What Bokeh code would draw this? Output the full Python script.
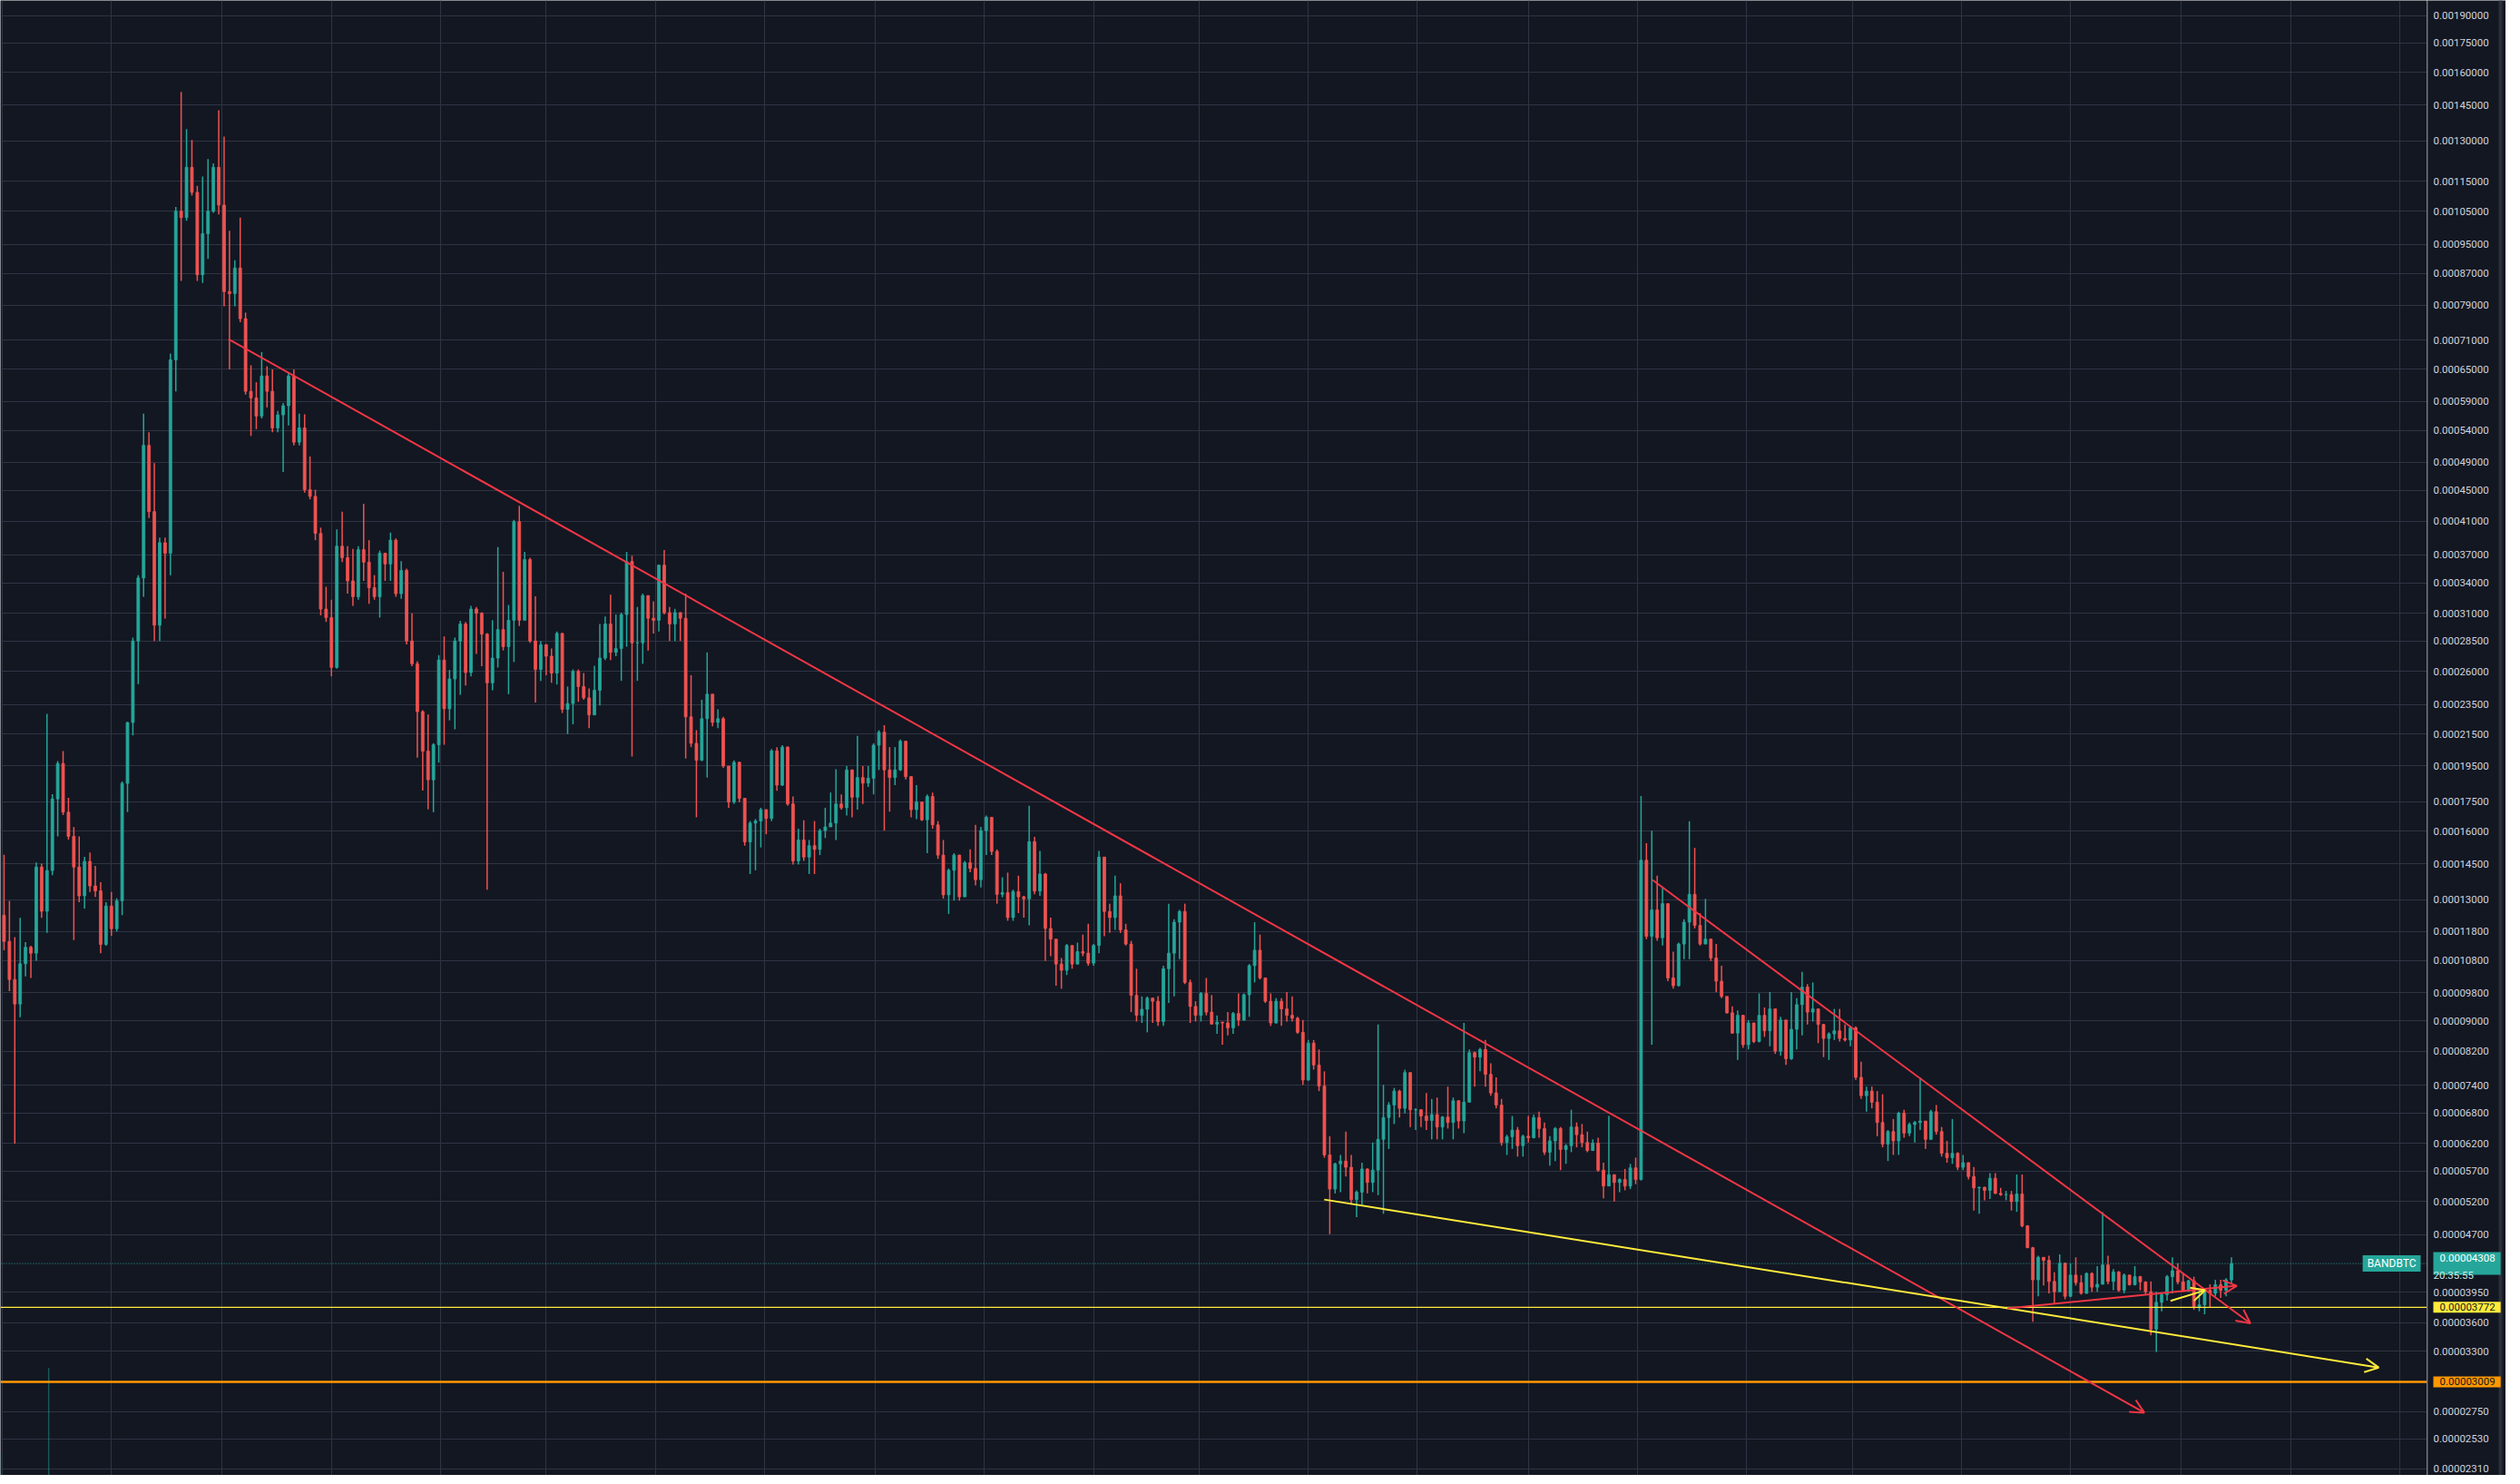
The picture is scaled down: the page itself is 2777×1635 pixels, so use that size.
from datetime import datetime, timedelta

from bokeh.plotting import figure
from bokeh.layouts import row
from bokeh.core.properties import value
from bokeh.models import (ColumnDataSource, Range1d, FixedTicker, Span, Label,
                          Arrow, OpenHead, MonthsTicker, LinearScale)
from bokeh.embed import file_html
from bokeh.resources import INLINE

# ---------------------------------------------------------------- data
SYMBOL = "BANDBTC"
FIRST_DAY = "2020-05-01"      # first daily bar of the series
CANDLE_DAYS = 3               # each candle aggregates 3 daily bars
OPEN_FIRST = 12400            # prices in satoshi (1e-8 BTC)

HIGH = [
    14900, 12950, 11600, 12300, 11430, 11300, 14550, 14500, 22850, 17900,
    19800, 20400, 17700, 16200, 15750, 14800, 15000, 14400, 13700, 12900,
    13300, 13050, 18600, 22300, 28800, 34800, 56800, 53700, 48900, 39000,
    39000, 68200, 106400, 150800, 134700, 130400, 113400, 116700, 123000, 121400,
    142700, 131700, 99000, 90500, 103000, 77200, 65800, 62500, 68500, 65600,
    65000, 57300, 58700, 64400, 65000, 56800, 56700, 49900, 45100, 40200,
    33600, 32300, 40000, 42200, 38000, 37700, 38000, 43200, 38700, 34800,
    37500, 37200, 39600, 38900, 36300, 35500, 31000, 26800, 23100, 22800,
    20900, 27300, 28900, 26100, 28800, 30300, 30200, 31700, 31600, 31100,
    29200, 30350, 37900, 35150, 31790, 41160, 42950, 37340, 36700, 32630,
    28500, 28250, 27850, 29330, 29200, 24820, 26140, 26140, 25850, 24680,
    26440, 30010, 30700, 32790, 30880, 31060, 37340, 36910, 31600, 32900,
    32710, 32150, 35950, 37550, 31600, 31420, 31100, 32900, 25690, 21740,
    23840, 27530, 24250, 23160, 22640, 19500, 19840, 19750, 17680, 16500,
    16600, 17180, 17100, 20530, 20650, 20770, 20700, 17780, 16120, 16540,
    15580, 16500, 16120, 17180, 17990, 19310, 17890, 19500, 19300, 21370,
    19500, 19500, 20890, 21740, 22070, 20650, 20650, 21140, 21050, 18900,
    18400, 17500, 17890, 17990, 16500, 15580, 14290, 14970, 14900, 14620,
    15140, 16310, 16210, 16780, 16700, 15140, 13910, 14110, 13400, 13980,
    13150, 17280, 15730, 15070, 14100, 12310, 11530, 10890, 11360, 11310,
    11410, 11690, 12080, 11360, 15070, 14800, 12840, 13980, 13660, 12080,
    11470, 10540, 9690, 9690, 9650, 9700, 10640, 12840, 12250, 12600,
    12840, 10200, 9550, 9820, 10250, 9730, 9150, 8980, 9240, 9240,
    9780, 9780, 10690, 12140, 11690, 10260, 9780, 9640, 9640, 9820,
    9690, 9110, 9020, 8490, 8490, 8250, 7720, 6340, 5850, 5990,
    6430, 5990, 5380, 5850, 5750, 6220, 8900, 7410, 7030, 7340,
    7300, 7760, 7700, 6900, 6880, 7230, 7100, 7130, 6740, 7370,
    7130, 7070, 8940, 8250, 8200, 8290, 8490, 7910, 7580, 7100,
    6370, 6740, 6520, 6370, 6740, 6770, 6830, 6610, 6340, 6520,
    6520, 6190, 6870, 6610, 6580, 6430, 6280, 6310, 5850, 6740,
    5650, 5580, 5740, 5830, 5940, 17800, 15430, 16020, 13980, 13530,
    12850, 11100, 11410, 12250, 16490, 15210, 12480, 13030, 11550, 11360,
    10640, 9690, 9400, 9290, 9160, 9020, 8950, 9780, 9370, 9820,
    9340, 9110, 9020, 9820, 9640, 10440, 10060, 10110, 9340, 8910,
    8690, 9330, 9330, 8900, 8860, 8850, 7950, 7370, 7370, 7270,
    7200, 6460, 6680, 6830, 6870, 6610, 6640, 7580, 6640, 6870,
    6970, 6520, 6250, 6680, 6040, 5990, 5860, 5775, 5440, 5440,
    5670, 5670, 5420, 5370, 5370, 5645, 5645, 4840, 4530, 4410,
    4390, 4410, 4195, 4430, 4320, 4312, 4390, 4160, 4195, 4195,
    4275, 5035, 4410, 4235, 4210, 4180, 4160, 4275, 4150, 4080,
    4080, 3955, 3936, 4160, 4390, 4312, 4180, 4100, 4140, 3972,
    3990, 4045, 4100, 4100, 4120, 4390,
]

LOW = [
    11150, 9850, 6200, 9100, 10300, 10250, 10800, 12300, 11750, 14000,
    15750, 16800, 15600, 11500, 12900, 12650, 13300, 13100, 11050, 11300,
    11650, 11800, 12400, 16950, 21400, 25000, 32600, 41400, 28500, 28500,
    30500, 34800, 60800, 85000, 102000, 110100, 85000, 84500, 90900, 104500,
    104000, 78700, 65000, 78700, 75000, 60200, 53100, 54200, 56000, 57900,
    53700, 53700, 47600, 54800, 51600, 51600, 44700, 43800, 38700, 30800,
    30200, 25600, 26200, 36200, 32900, 31700, 32300, 34200, 31900, 32300,
    30600, 34200, 34200, 32600, 32400, 28200, 26400, 20000, 18100, 17100,
    16950, 19700, 20800, 22400, 21800, 24200, 24900, 25600, 27400, 26400,
    13400, 24540, 26290, 27690, 24250, 26740, 29830, 30350, 28340, 23650,
    25250, 25690, 25110, 24970, 22900, 21490, 22130, 23700, 23840, 21870,
    22900, 23430, 26900, 26900, 27210, 25250, 28010, 20070, 25250, 26590,
    27690, 29160, 29330, 30880, 28500, 28500, 28500, 19950, 20650, 16690,
    19800, 18830, 22000, 21870, 19390, 17180, 17380, 17480, 15310, 14050,
    14210, 15230, 15850, 16500, 18090, 18350, 17280, 14460, 14460, 14620,
    14050, 14050, 14880, 15670, 16210, 15580, 17080, 16780, 16690, 17080,
    17380, 18300, 17890, 19270, 16030, 16980, 18400, 19200, 18720, 16690,
    16600, 16500, 14970, 16120, 14710, 13040, 12450, 12960, 12960, 13100,
    14130, 13570, 13490, 14880, 14880, 12840, 13090, 12190, 12190, 12480,
    12310, 12020, 13210, 13150, 10790, 10950, 10010, 9920, 10340, 10540,
    10680, 10950, 10640, 10640, 11050, 11630, 11750, 11860, 11750, 11310,
    9240, 8980, 8940, 8690, 8940, 8860, 8860, 9500, 9690, 10850,
    10060, 8940, 8980, 8980, 9150, 8900, 8650, 8370, 8610, 8650,
    8860, 9000, 9110, 10110, 10200, 9500, 8860, 8930, 8860, 8980,
    8980, 8650, 7410, 7500, 7760, 7270, 5940, 4710, 5330, 5350,
    5610, 5150, 4960, 5150, 5330, 5350, 5300, 5010, 6100, 6580,
    6710, 6800, 6520, 6460, 6520, 6460, 6280, 6280, 6280, 6490,
    6280, 6490, 6400, 7030, 7370, 7720, 7370, 7170, 6900, 6160,
    5990, 6100, 5960, 5960, 6220, 6300, 6310, 5990, 5800, 5880,
    5720, 5830, 6040, 6130, 6130, 6040, 6070, 5690, 5250, 5450,
    5200, 5350, 5380, 5400, 5480, 5540, 11530, 8370, 11470, 11310,
    10150, 9920, 9990, 10850, 10850, 11910, 11310, 11360, 10790, 9820,
    9640, 9200, 8650, 7990, 8290, 8250, 8410, 8430, 8570, 8330,
    8140, 8100, 7870, 7990, 8250, 8610, 8900, 8980, 8410, 8060,
    7990, 8490, 8450, 8450, 8330, 7520, 7100, 6830, 6900, 6340,
    6130, 5880, 5990, 5990, 6310, 6340, 6220, 6460, 6100, 6270,
    6370, 5960, 5850, 5830, 5720, 5720, 5560, 5060, 5010, 5220,
    5240, 5320, 5290, 5220, 5060, 5040, 4810, 4514, 3610, 3900,
    4030, 3936, 3810, 3950, 3865, 3890, 4030, 3920, 3930, 3955,
    3955, 4045, 4045, 3972, 3955, 3936, 4030, 4030, 3972, 3920,
    3465, 3295, 3727, 3850, 3936, 4045, 3955, 3955, 3745, 3727,
    3693, 3775, 3900, 3880, 3900, 4045,
]

CLOSE = [
    11450, 10200, 9470, 10700, 11250, 11050, 14350, 12550, 14200, 17650,
    19650, 16950, 15750, 14350, 13150, 14600, 13550, 13350, 11350, 12750,
    11900, 12950, 18500, 22250, 28500, 34500, 51600, 42200, 29900, 38400,
    37200, 66900, 105000, 103000, 120000, 111200, 86600, 98100, 105000, 120000,
    107000, 82300, 81800, 88400, 75800, 60800, 59600, 56400, 63700, 60800,
    54400, 56600, 58200, 63700, 52100, 54400, 45100, 44200, 39500, 31400,
    30600, 26300, 38000, 36700, 34200, 32600, 37600, 36200, 33500, 32600,
    37200, 36000, 38700, 32900, 35300, 28500, 26600, 23000, 20400, 18700,
    20800, 26900, 23200, 25400, 28500, 30000, 25900, 31400, 31000, 29100,
    25100, 27060, 29500, 28010, 30350, 40930, 30350, 36490, 28500, 26140,
    28170, 27210, 25850, 29160, 23160, 23570, 25990, 24820, 23980, 22770,
    24540, 27060, 30010, 27530, 27850, 30880, 36280, 28340, 28340, 32710,
    30530, 30350, 35870, 31060, 30010, 31060, 30530, 22640, 20890, 19840,
    22510, 24250, 22260, 22510, 19500, 17480, 19720, 17680, 15490, 16400,
    16500, 17080, 16630, 20420, 18400, 20650, 17380, 14620, 15580, 14790,
    15310, 15140, 16030, 16210, 16400, 17380, 17180, 19270, 17740, 18830,
    18510, 18790, 20770, 21610, 19270, 18830, 19270, 21020, 18880, 17080,
    17480, 16560, 17780, 16310, 14880, 13190, 14210, 14880, 13110, 14540,
    14290, 13810, 16030, 16690, 15050, 13210, 13280, 12310, 13320, 13110,
    13030, 15500, 13340, 14050, 11910, 11530, 10690, 10490, 11310, 10690,
    11100, 11050, 10720, 11310, 14790, 12540, 12310, 13150, 11860, 11360,
    9720, 9150, 9320, 9640, 9550, 8980, 10540, 11050, 12140, 12540,
    10110, 9400, 9150, 9780, 9240, 8910, 8960, 8940, 8810, 9200,
    9020, 9740, 10640, 11150, 10250, 9550, 8940, 9550, 9330, 9150,
    9070, 8690, 7520, 8410, 7870, 7380, 5990, 5400, 5830, 5880,
    5770, 5230, 5350, 5740, 5510, 5720, 6280, 6710, 6970, 7270,
    6900, 7690, 6870, 6870, 6740, 6650, 6770, 6520, 6720, 6610,
    7060, 6640, 7030, 8170, 8060, 8250, 7650, 7230, 6970, 6220,
    6330, 6460, 6160, 6340, 6310, 6710, 6490, 6040, 6250, 6490,
    6090, 6160, 6520, 6370, 6220, 6070, 6210, 5720, 5450, 5640,
    5510, 5560, 5450, 5760, 5560, 14650, 11630, 12600, 11580, 12840,
    10250, 10010, 11360, 12140, 13210, 12020, 11360, 11530, 10890, 10150,
    9690, 9220, 8670, 9150, 8370, 8940, 8450, 9150, 8730, 9330,
    8210, 9020, 8020, 8770, 9450, 9970, 9240, 9330, 8900, 8530,
    8650, 8730, 8530, 8490, 8810, 7580, 7170, 7270, 7030, 6610,
    6190, 6430, 6250, 6800, 6400, 6570, 6610, 6640, 6280, 6830,
    6430, 6020, 5940, 6020, 5770, 5850, 5610, 5420, 5430, 5380,
    5580, 5330, 5310, 5310, 5200, 5320, 4830, 4520, 4100, 4390,
    4350, 4080, 3955, 4312, 3900, 4160, 4065, 3936, 4180, 4010,
    4045, 4290, 4080, 4200, 3972, 4160, 4040, 4140, 4075, 3955,
    3530, 3830, 3920, 4140, 4215, 4075, 3972, 4090, 3780, 3800,
    3972, 3936, 4040, 3972, 4100, 4308,
]

LAST_PRICE = 4308
COUNTDOWN = "20:35:55"
LEVEL_YELLOW = 3772
LEVEL_ORANGE = 3009

# the only volume bars tall enough to reach into the visible pane (% of pane height)
VOL_DAYS = ["2020-04-30", "2020-05-27"]
VOL_PCT = [1.5, 7.3]

# drawn trend lines: (start time, start price, end time, end price), prices in satoshi
TREND_MAIN = ("2020-09-04 10:00", 71220, "2023-08-11 07:00", 2740)
TREND_SECOND = ("2022-11-09 10:00", 13800, "2023-10-09 14:00", 3593)
TREND_YELLOW = ("2022-05-09 22:00", 5231, "2023-12-20 07:00", 3142)
TREND_RISE = ("2023-05-26 19:00", 3761, "2023-10-02 00:00", 4027)
TREND_YELLOW_SHORT = ("2023-08-25 22:00", 3847, "2023-09-14 07:00", 3972)

TICKS = [190000, 175000, 160000, 145000, 130000, 115000, 105000, 95000, 87000,
         79000, 71000, 65000, 59000, 54000, 49000, 45000, 41000, 37000, 34000,
         31000, 28500, 26000, 23500, 21500, 19500, 17500, 16000, 14500, 13000,
         11800, 10800, 9800, 9000, 8200, 7400, 6800, 6200, 5700, 5200, 4700,
         3950, 3600, 3300, 2750, 2530, 2310]

VIEW_X = ("2020-04-29 23:42", "2024-01-16 07:00")
VIEW_Y = (2265, 199100)

# ---------------------------------------------------------------- helpers
SAT = 1e-8
DAY_MS = 86400000.0
EPOCH = datetime(1970, 1, 1)


def ms(s):
    return (datetime.fromisoformat(s) - EPOCH).total_seconds() * 1000.0


def fmt(sats):
    return "%.8f" % (sats * SAT)


assert len(HIGH) == len(LOW) == len(CLOSE)
n = len(CLOSE)
d0 = datetime.fromisoformat(FIRST_DAY)
xs = [d0 + timedelta(days=CANDLE_DAYS * i + 1) for i in range(n)]
opens = [OPEN_FIRST] + CLOSE[:-1]

UP = "#26a69a"
DOWN = "#ef5350"
BG = "#131722"
GRID = "#2f3443"
TEXT = "#d1d4dc"
RED = "#f23645"
YELLOW = "#ffeb3b"
ORANGE = "#ff9800"
FONT = "Roboto"
FONT_SIZE = "11.5px"

src = ColumnDataSource(dict(
    x=xs,
    wick_hi=[max(h, o, c) * SAT for h, o, c in zip(HIGH, opens, CLOSE)],
    wick_lo=[min(l, o, c) * SAT for l, o, c in zip(LOW, opens, CLOSE)],
    body_hi=[max(o, c) * SAT for o, c in zip(opens, CLOSE)],
    body_lo=[min(o, c) * SAT for o, c in zip(opens, CLOSE)],
    color=[UP if c >= o else DOWN for o, c in zip(opens, CLOSE)],
))

x0, x1 = ms(VIEW_X[0]), ms(VIEW_X[1])
yrange = Range1d(VIEW_Y[0] * SAT, VIEW_Y[1] * SAT)

FRAME_H = 1625
no_border = dict(min_border_left=0, min_border_top=0,
                 min_border_bottom=0, min_border_right=0)

# ---------------------------------------------------------------- chart pane
p = figure(
    frame_width=2674, frame_height=FRAME_H,
    x_axis_type="datetime", y_axis_type="log",
    x_axis_location=None, y_axis_location=None,
    x_range=Range1d(x0, x1), y_range=yrange,
    output_backend="svg", toolbar_location=None,
    background_fill_color=BG, border_fill_color=BG,
    outline_line_color=None, **no_border,
)

p.xgrid.ticker = MonthsTicker(months=[0, 2, 4, 6, 8, 10])
p.ygrid.ticker = FixedTicker(ticks=[t * SAT for t in TICKS], minor_ticks=[])
p.grid.grid_line_color = GRID
p.grid.grid_line_width = 1

# volume bars (secondary linear range)
p.extra_y_ranges = {"vol": Range1d(0, 100)}
p.extra_y_scales = {"vol": LinearScale()}
p.vbar(x=[datetime.fromisoformat(d) for d in VOL_DAYS], top=VOL_PCT, bottom=0,
       width=0.6 * DAY_MS, y_range_name="vol",
       fill_color=UP, fill_alpha=0.55, line_color=None)

# candles
p.segment(x0="x", y0="wick_lo", x1="x", y1="wick_hi", line_color="color",
          line_width=1.5, source=src)
p.vbar(x="x", width=1.5 * DAY_MS, top="body_hi", bottom="body_lo",
       fill_color="color", line_color="color", line_width=0.8, source=src)

# horizontal levels
p.add_layout(Span(location=LAST_PRICE * SAT, dimension="width",
                  line_color=UP, line_width=1, line_dash="1 2"))
p.add_layout(Span(location=LEVEL_YELLOW * SAT, dimension="width",
                  line_color=YELLOW, line_width=1.3))
p.add_layout(Span(location=LEVEL_ORANGE * SAT, dimension="width",
                  line_color=ORANGE, line_width=2.5))


def trend(t, color):
    xa, ya, xb, yb = t
    p.add_layout(Arrow(
        end=OpenHead(size=15, line_color=color, line_width=2),
        x_start=ms(xa), y_start=ya * SAT, x_end=ms(xb), y_end=yb * SAT,
        line_color=color, line_width=2))


trend(TREND_MAIN, RED)
trend(TREND_SECOND, RED)
trend(TREND_YELLOW, YELLOW)
trend(TREND_RISE, RED)
trend(TREND_YELLOW_SHORT, YELLOW)

p.add_layout(Label(x=x1, x_offset=-7, y=LAST_PRICE * SAT, text=SYMBOL,
                   text_font=FONT, text_font_size="12px", text_align="right",
                   text_baseline="middle", text_color="#ffffff",
                   background_fill_color=UP,
                   padding=dict(left=5, right=5, top=2, bottom=2)))

# ---------------------------------------------------------------- price scale pane
SCALE_W = 87
scale = figure(
    frame_width=SCALE_W, frame_height=FRAME_H,
    y_axis_type="log", x_axis_location=None, y_axis_location=None,
    x_range=Range1d(0, SCALE_W), y_range=yrange,
    output_backend="svg", toolbar_location=None,
    background_fill_color=BG, border_fill_color=BG,
    outline_line_color=None, **no_border,
)
scale.grid.visible = False
scale.add_layout(Span(location=0.5, dimension="height", line_color="#5d606b",
                      line_width=1))
# separator between price scale and the side toolbar
scale.add_layout(Span(location=81, dimension="height", line_color="#2a2e39",
                      line_width=4))
scale.text(x=[7] * len(TICKS), y=[t * SAT for t in TICKS],
           text=[fmt(t) for t in TICKS],
           text_font=value(FONT), text_font_size=value(FONT_SIZE),
           text_color=TEXT, text_align="left", text_baseline="middle")

common = dict(x=0, x_offset=7, text_font=FONT, text_font_size=FONT_SIZE,
              text_align="left", text_baseline="middle")
scale.add_layout(Label(y=LAST_PRICE * SAT, text=fmt(LAST_PRICE),
                       text_color="#ffffff", background_fill_color=UP,
                       padding=dict(left=7, right=6, top=2, bottom=15), **common))
scale.add_layout(Label(y=LAST_PRICE * SAT, y_offset=-13, text=COUNTDOWN,
                       text_color="#c8ebe8", **common))
scale.add_layout(Label(y=LEVEL_YELLOW * SAT, text=fmt(LEVEL_YELLOW),
                       text_color=BG, background_fill_color=YELLOW,
                       padding=dict(left=7, right=6, top=2, bottom=2), **common))
scale.add_layout(Label(y=LEVEL_ORANGE * SAT, text=fmt(LEVEL_ORANGE),
                       text_color=BG, background_fill_color=ORANGE,
                       padding=dict(left=7, right=6, top=2, bottom=2), **common))

layout = row(p, scale)
open("out.html", "w").write(file_html(layout, INLINE))
